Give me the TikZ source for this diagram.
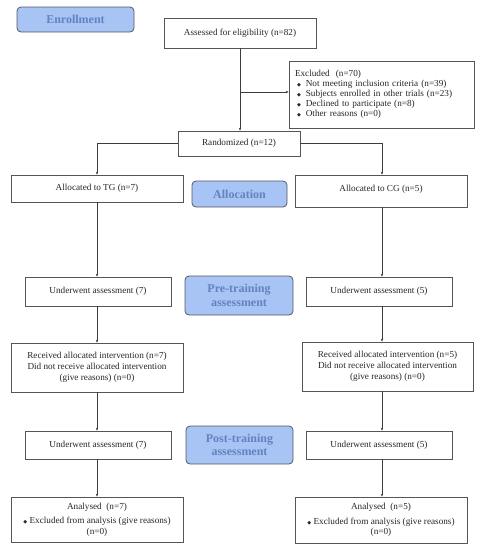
\documentclass[tikz,border=0pt]{standalone}
\usepackage{fontspec}
\setmainfont{Liberation Serif}
\newfontfamily\dejavu{DejaVu Sans}
\usetikzlibrary{arrows.meta,calc}
\definecolor{hdrfill}{RGB}{168,196,245}
\definecolor{hdrtext}{RGB}{100,130,192}
\definecolor{hdrline}{RGB}{85,88,100}
\definecolor{boxline}{RGB}{85,85,85}
\definecolor{conline}{RGB}{60,60,60}
\newcommand{\dia}{{\dejavu\fontsize{5}{5}\selectfont ◆}}
\begin{document}
\begin{tikzpicture}[x=1pt,y=-1pt,
  every node/.style={font=\fontsize{9.2}{10.5}\selectfont, text=black!85},
  box/.style={draw=boxline, line width=0.7pt, fill=white, align=center, inner sep=2pt},
  hdr/.style={draw=hdrline, line width=0.8pt, fill=hdrfill, rounded corners=4pt, align=center,
    font=\fontsize{12}{13.5}\selectfont\bfseries, text=hdrtext, inner sep=1pt},
  con/.style={draw=conline, line width=0.6pt},
  arr/.style={con, -{Stealth[length=3pt,width=2.4pt]}}
]
\useasboundingbox (0,0) rectangle (482,550);

% header boxes
\node[hdr, minimum width=117pt, minimum height=25pt] (enroll) at (75.5,19.5) {Enrollment};
\node[hdr, minimum width=95pt, minimum height=26pt] (alloc) at (239.5,194) {Allocation};
\node[hdr, minimum width=108pt, minimum height=39pt] (pre) at (239,295.5) {Pre-training\\assessment};
\node[hdr, minimum width=107pt, minimum height=38pt] (post) at (239.5,445) {Post-training\\assessment};

% main boxes
\node[box, minimum width=152pt, minimum height=30pt] (assessed) at (240,33) {Assessed for eligibility (n=82)};
\node[box, minimum width=185pt, minimum height=67pt, text width=173pt, align=left, inner xsep=6pt,
  font=\fontsize{9.2}{10}\selectfont] (excluded) at (381.5,94.5)
  {Excluded\ \ (n=70)\\
   \hspace*{2pt}\dia\hspace{5pt}Not meeting inclusion criteria (n=39)\\
   \hspace*{2pt}\dia\hspace{5pt}Subjects enrolled in other trials (n=23)\\
   \hspace*{2pt}\dia\hspace{5pt}Declined to participate (n=8)\\
   \hspace*{2pt}\dia\hspace{5pt}Other reasons (n=0)};
\node[box, minimum width=122pt, minimum height=25pt] (random) at (239,143.5) {Randomized (n=12)};

\node[box, minimum width=172pt, minimum height=27pt] (tg) at (97,188.5) {Allocated to TG (n=7)};
\node[box, minimum width=172pt, minimum height=32pt, text depth=6pt] (cg) at (381,191) {Allocated to CG (n=5)};

\node[box, minimum width=146pt, minimum height=29pt] (utga) at (98,291.5) {Underwent assessment (7)};
\node[box, minimum width=146pt, minimum height=29pt] (ucga) at (379,291.5) {Underwent assessment (5)};

\node[box, minimum width=172pt, minimum height=49pt, font=\fontsize{9.2}{11}\selectfont] (rtg) at (97,367.5)
  {Received allocated intervention (n=7)\\Did not receive allocated intervention\\(give reasons) (n=0)};
\node[box, minimum width=171pt, minimum height=49pt, font=\fontsize{9.2}{11}\selectfont] (rcg) at (387.5,366.5)
  {Received allocated intervention (n=5)\\Did not receive allocated intervention\\(give reasons) (n=0)};

\node[box, minimum width=146pt, minimum height=28pt] (utgb) at (98,445) {Underwent assessment (7)};
\node[box, minimum width=146pt, minimum height=28pt] (ucgb) at (379,445) {Underwent assessment (5)};

\node[box, minimum width=172pt, minimum height=45pt] (atg) at (97,519.5)
  {Analysed\ \ (n=7)\\[4pt]\dia\ Excluded from analysis (give reasons)\\(n=0)};
\node[box, minimum width=172pt, minimum height=46pt] (acg) at (381,520)
  {Analysed\ \ (n=5)\\[4pt]\dia\ Excluded from analysis (give reasons)\\(n=0)};

% column coordinates
\coordinate (tgx) at (97,0);
\coordinate (cgx) at (382,0);
\coordinate (midx) at (240,0);
\coordinate (exjoin) at (240,92);

% connectors
\draw[arr] (assessed.south -| midx) -- (random.north -| midx);
\draw[arr] (exjoin) -- (exjoin -| excluded.west);
\draw[arr] (random.west) -| (tg.north -| tgx);
\draw[arr] (random.east) -| (cg.north -| cgx);

\draw[arr] (tg.south -| tgx) -- (utga.north -| tgx);
\draw[arr] (utga.south -| tgx) -- (rtg.north -| tgx);
\draw[arr] (rtg.south -| tgx) -- (utgb.north -| tgx);
\draw[arr] (utgb.south -| tgx) -- (atg.north -| tgx);

\draw[arr] (cg.south -| cgx) -- (ucga.north -| cgx);
\draw[arr] (ucga.south -| cgx) -- (rcg.north -| cgx);
\draw[arr] (rcg.south -| cgx) -- (ucgb.north -| cgx);
\draw[arr] (ucgb.south -| cgx) -- (acg.north -| cgx);
\end{tikzpicture}
\end{document}
